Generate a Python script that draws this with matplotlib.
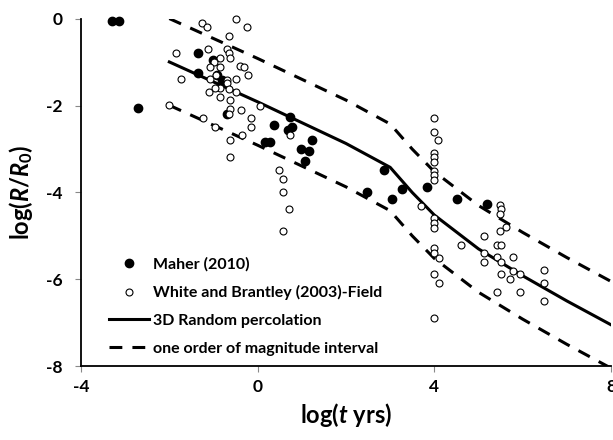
import matplotlib
matplotlib.use("Agg")
import matplotlib.pyplot as plt

plt.rcParams['font.family'] = ['Lato', 'DejaVu Sans']
plt.rcParams['font.weight'] = 'bold'
plt.rcParams['axes.unicode_minus'] = False
plt.rcParams['mathtext.fontset'] = 'custom'
plt.rcParams['mathtext.rm'] = 'Lato:bold'
plt.rcParams['mathtext.it'] = 'Lato:bold:italic'
plt.rcParams['mathtext.bf'] = 'Lato:bold'

# Maher (2010)
maher_x = [-3.30, -3.15, -2.70, -1.34, -1.34, -1.02, -0.93, -0.81, -0.70,
           0.37, 0.73, 0.69, 0.77, 0.17, 0.29, 1.22, 0.97, 1.17, 1.07,
           2.86, 2.47, 3.05, 3.26, 3.84, 4.52, 5.19]
maher_y = [-0.05, -0.05, -2.06, -0.79, -1.25, -0.95, -1.29, -1.41, -2.18,
           -2.45, -2.27, -2.56, -2.48, -2.83, -2.83, -2.79, -3.00, -3.05, -3.28,
           -3.48, -3.98, -4.16, -3.93, -3.87, -4.14, -4.27]

# White and Brantley (2003) - field data
wb_x = [-1.27, -1.15, -0.50, -0.24, -0.64, -1.86, -1.12, -0.70, -0.64, -0.63,
        -0.85, -0.99, -1.08, -0.85, -0.40, -0.31, -0.23, -1.74, -1.08, -0.94,
        -0.70, -0.50, -0.70, -0.64, -0.85, -0.97, -1.10, -0.85, -0.48, -0.63,
        0.05, -2.01, -0.63, -0.64, -0.38, -1.23, -0.15, -0.15, -0.96, -0.35,
        -0.63, -0.63, 0.73, 0.48, 0.58, 0.58, 0.71, 0.58,
        4.00, 4.00, 4.09, 4.00, 4.00, 4.00, 4.00, 4.00, 4.00, 3.69,
        4.00, 4.00, 4.00, 4.00, 4.00, 4.11, 4.00, 4.11, 4.00,
        5.48, 5.50, 5.48, 5.62, 5.48, 5.12, 4.60, 5.41, 5.52, 5.12,
        5.12, 5.41, 5.52, 5.78, 5.78, 5.52, 5.71, 5.93, 6.48, 6.48,
        5.41, 5.93, 6.48]
wb_y = [-0.10, -0.19, 0.00, -0.19, -0.39, -0.79, -0.69, -0.70, -0.79, -0.91,
        -0.89, -0.99, -1.10, -1.10, -1.08, -1.10, -1.29, -1.39, -1.39, -1.29,
        -1.41, -1.39, -1.48, -1.62, -1.60, -1.58, -1.68, -1.79, -1.68, -1.87,
        -2.00, -1.99, -2.08, -2.18, -2.10, -2.29, -2.29, -2.50, -2.48, -2.68,
        -2.79, -3.18, -2.68, -3.48, -3.69, -4.00, -4.39, -4.89,
        -2.29, -2.60, -2.79, -3.08, -3.18, -3.29, -3.51, -3.60, -3.71, -4.31,
        -4.58, -4.70, -4.81, -5.29, -5.39, -5.50, -5.88, -6.08, -6.89,
        -4.29, -4.39, -4.50, -4.79, -4.89, -5.00, -5.20, -5.20, -5.20, -5.39,
        -5.60, -5.48, -5.61, -5.48, -5.81, -5.89, -6.00, -5.88, -5.79, -6.08,
        -6.29, -6.29, -6.50]

# 3D random percolation curve and +/- one order of magnitude
perc_x = [-2.0, 0.0, 2.0, 3.0, 3.5, 4.0, 5.0, 6.0, 7.0, 8.0]
perc_y = [-0.99, -1.91, -2.87, -3.42, -4.00, -4.52, -5.30, -5.92, -6.50, -7.05]
upper_y = [v + 1 for v in perc_y]
lower_y = [v - 1 for v in perc_y]

fig = plt.figure(figsize=(6.13, 4.4), dpi=100)
ax = fig.add_axes([81 / 613, 1 - 366 / 440, 530 / 613, 347 / 440])

ax.plot(perc_x, perc_y, color='black', lw=2.2, label='3D Random percolation', zorder=2)
ax.plot(perc_x, upper_y, color='black', lw=2.2, linestyle=(0, (4.2, 3.3)),
        label='one order of magnitude interval', zorder=2)
ax.plot(perc_x, lower_y, color='black', lw=2.2, linestyle=(0, (4.2, 3.3)), zorder=2)

ax.plot(maher_x, maher_y, 'o', color='black', ms=6, mec='black',
        label='Maher (2010)', zorder=3, clip_on=False)
ax.plot(wb_x, wb_y, 'o', mfc='white', mec='black', mew=0.8, ms=5,
        label='White and Brantley (2003)-Field', zorder=4, clip_on=False)

ax.set_xlim(-4, 8)
ax.set_ylim(-8, 0)
ax.set_xticks([-4, 0, 4, 8])
ax.set_yticks([0, -2, -4, -6, -8])

for s in ['top', 'right']:
    ax.spines[s].set_visible(False)
for s in ['left', 'bottom']:
    ax.spines[s].set_linewidth(1.3)

ax.tick_params(axis='both', direction='out', length=4, width=0.8, color='#888888',
               labelsize=12.5)
ax.tick_params(axis='y', pad=9)
ax.tick_params(axis='x', pad=5)
for lab in ax.get_xticklabels() + ax.get_yticklabels():
    lab.set_fontweight('bold')

ax.set_xlabel(r'log($t$ yrs)', fontsize=17, fontweight='bold', labelpad=5)
ax.set_ylabel(r'log($R$/$R_\mathrm{0}$)', fontsize=17, fontweight='bold', labelpad=8)

handles, labels = ax.get_legend_handles_labels()
order = [2, 3, 0, 1]
ax.legend([handles[i] for i in order], [labels[i] for i in order],
          loc='lower left', bbox_to_anchor=(0.025, -0.012), frameon=False,
          prop={'weight': 'bold', 'size': 11.5}, handlelength=2.5,
          handletextpad=0.3, labelspacing=0.85, numpoints=1)

fig.savefig('out.png', dpi=100)
